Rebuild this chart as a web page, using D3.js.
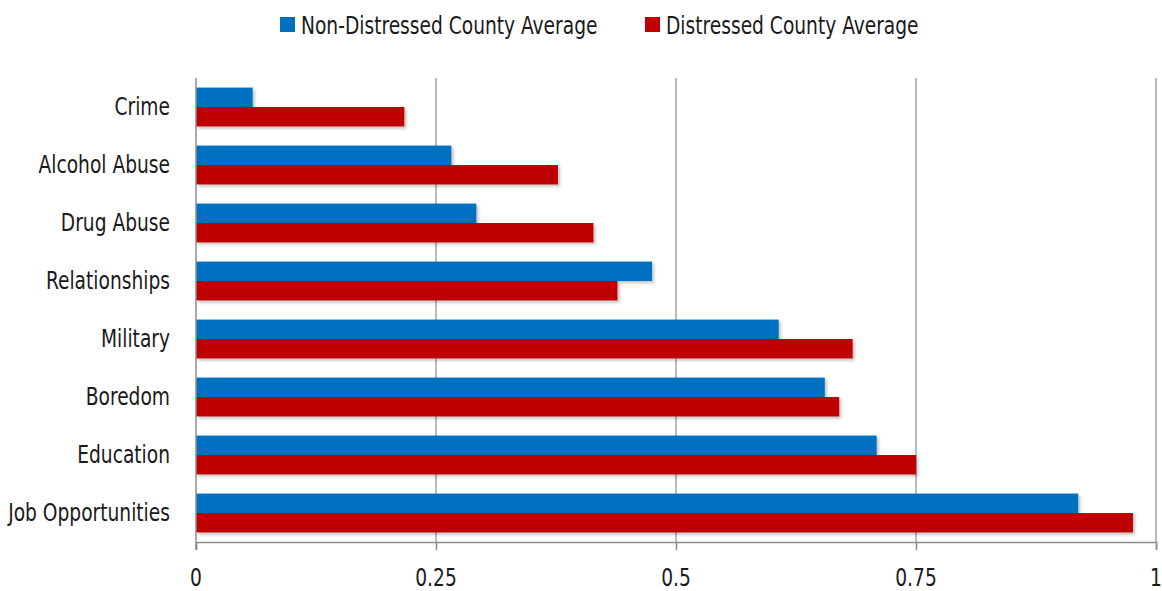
<!DOCTYPE html>
<html>
<head>
<meta charset="utf-8">
<script src="https://cdn.jsdelivr.net/npm/d3@7"></script>
<style>
  html, body { margin: 0; padding: 0; background: #fff; }
  svg text { font-family: "Liberation Sans Narrow", "DejaVu Sans Condensed", "Liberation Sans", sans-serif; fill: #1a1a1a; }
</style>
</head>
<body>
<svg id="chart" width="1162" height="591"></svg>
<script>
// Reasons cited, by county type
const categories = ["Crime", "Alcohol Abuse", "Drug Abuse", "Relationships", "Military", "Boredom", "Education", "Job Opportunities"];
const nonDistressed = [0.059, 0.266, 0.292, 0.475, 0.607, 0.655, 0.709, 0.919];
const distressed = [0.217, 0.377, 0.414, 0.439, 0.684, 0.670, 0.750, 0.976];
const seriesNames = ["Non-Distressed County Average", "Distressed County Average"];
const seriesColors = ["#0070C0", "#C00000"];
const xTicks = [0, 0.25, 0.5, 0.75, 1];

const svg = d3.select("#chart");
const margin = { left: 196, right: 6, top: 78, bottom: 49 };
const W = 1162, H = 591;
const FONT = 24;

// narrow lettering: squeeze text horizontally so the longest label spans 162px
const probe = svg.append("text").attr("font-size", FONT).text("Job Opportunities");
const condense = 162 / probe.node().getComputedTextLength();
probe.remove();

function narrowText(sel, x0, y0, txt, anchor) {
  return sel.append("text")
    .attr("transform", `translate(${x0},${y0}) scale(${condense},1)`)
    .attr("text-anchor", anchor)
    .attr("dy", "0.35em")
    .attr("font-size", FONT)
    .text(txt);
}

const x = d3.scaleLinear().domain([0, 1]).range([margin.left, W - margin.right]);
const y = d3.scaleBand().domain(categories).range([margin.top, H - margin.bottom]).paddingInner(0.33).paddingOuter(0.165);
const ySub = d3.scaleBand().domain([0, 1]).range([0, y.bandwidth()]);

// soft shadow under each bar
const defs = svg.append("defs");
const f = defs.append("filter").attr("id", "shadow").attr("x", "-5%").attr("y", "-20%").attr("width", "110%").attr("height", "160%");
f.append("feDropShadow").attr("dx", 2).attr("dy", 2).attr("stdDeviation", 1.5).attr("flood-color", "#000").attr("flood-opacity", 0.25);

// vertical gridlines
svg.append("g").selectAll("line").data(xTicks.slice(1)).join("line")
  .attr("x1", d => x(d)).attr("x2", d => x(d))
  .attr("y1", margin.top).attr("y2", H - margin.bottom)
  .attr("stroke", "#8c8c8c").attr("stroke-width", 1.2);

// bars
const series = [nonDistressed, distressed];
const gBars = svg.append("g").attr("filter", "url(#shadow)");
series.forEach((vals, si) => {
  gBars.append("g").selectAll("rect").data(categories).join("rect")
    .attr("x", x(0))
    .attr("y", d => y(d) + ySub(si))
    .attr("width", (d, i) => x(vals[i]) - x(0))
    .attr("height", ySub.bandwidth())
    .attr("fill", seriesColors[si]);
});

// left axis line
svg.append("line")
  .attr("x1", x(0)).attr("x2", x(0))
  .attr("y1", margin.top).attr("y2", H - margin.bottom + 8)
  .attr("stroke", "#8c8c8c").attr("stroke-width", 1.5);

// bottom axis (line and ticks from d3.axisBottom, labels narrowed)
const xAxis = d3.axisBottom(x).tickValues(xTicks).tickFormat("").tickSize(8);
const gx = svg.append("g").attr("transform", `translate(0,${H - margin.bottom})`).call(xAxis);
gx.select(".domain").attr("stroke", "#8c8c8c").attr("stroke-width", 1.5);
gx.selectAll(".tick line").attr("stroke", "#8c8c8c").attr("stroke-width", 1.5);
const gTickLabels = svg.append("g");
xTicks.forEach(t => narrowText(gTickLabels, x(t), 578, String(t), "middle"));

// category labels
const gCat = svg.append("g");
categories.forEach(c => narrowText(gCat, x(0) - 26, y(c) + y.bandwidth() / 2, c, "end"));

// legend
const legendItems = [{ x: 280, name: seriesNames[0], color: seriesColors[0] },
                     { x: 645, name: seriesNames[1], color: seriesColors[1] }];
const lg = svg.append("g");
legendItems.forEach(it => {
  lg.append("rect").attr("x", it.x).attr("y", 17).attr("width", 15).attr("height", 15).attr("fill", it.color);
  narrowText(lg, it.x + 21, 26, it.name, "start");
});
</script>
</body>
</html>
